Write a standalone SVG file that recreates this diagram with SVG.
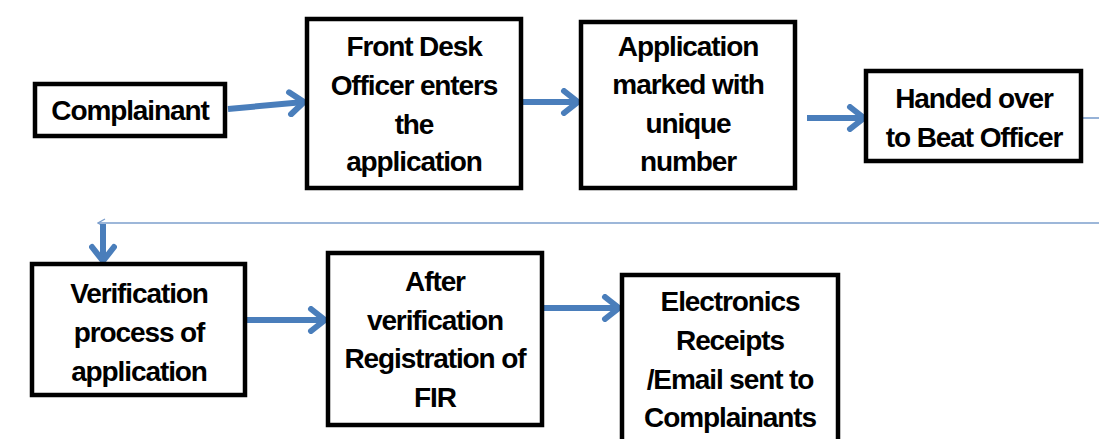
<svg xmlns="http://www.w3.org/2000/svg" width="1099" height="439" viewBox="0 0 1099 439">
<style>
.box{fill:#fff;stroke:#000;stroke-width:4.5}
.lbl{font-family:"Liberation Sans",Arial,sans-serif;font-weight:bold;font-size:28px;letter-spacing:-1.1px;fill:#000;text-anchor:middle}
.arr{fill:none;stroke:#4A7EBB;stroke-width:6;marker-end:url(#head)}
.thin{fill:none;stroke:#7C9FCD;stroke-width:1.6}
</style>
<defs>
<marker id="head" viewBox="0 0 22 28" refX="18" refY="14" markerWidth="22" markerHeight="28" markerUnits="userSpaceOnUse" orient="auto">
<path d="M4,3 L18,14 L4,25" fill="none" stroke="#4A7EBB" stroke-width="6" stroke-linecap="round" stroke-linejoin="round"/>
</marker>
<marker id="thinhead" viewBox="0 0 10 10" refX="9" refY="5" markerWidth="10" markerHeight="10" markerUnits="userSpaceOnUse" orient="auto">
<path d="M2,1 L9,5 L2,9" fill="none" stroke="#7C9FCD" stroke-width="1.4"/>
</marker>
</defs>
<rect width="1099" height="439" fill="#fff"/>
<g id="connectors">
<path class="arr" d="M228,109 L304,102"/>
<path class="arr" d="M523,102 L578,102"/>
<path class="arr" d="M807,118 L864,118"/>
<path class="thin" d="M1083,118 L1099,118"/>
<path class="thin" d="M1099,223 L98,223" marker-end="url(#thinhead)"/>
<path class="arr" d="M103,224 L103,261"/>
<path class="arr" d="M247,320 L325,320"/>
<path class="arr" d="M544,308 L619,308"/>
</g>
<g id="n1"><rect class="box" x="35" y="84" width="190" height="52"/><text class="lbl" x="130" y="120">Complainant</text></g>
<g id="n2"><rect class="box" x="307" y="19" width="214" height="169"/><text class="lbl" x="414" y="56">Front Desk</text><text class="lbl" x="414" y="95">Officer enters</text><text class="lbl" x="414" y="134">the</text><text class="lbl" x="414" y="171">application</text></g>
<g id="n3"><rect class="box" x="581" y="22" width="214" height="166"/><text class="lbl" x="688" y="56">Application</text><text class="lbl" x="688" y="94">marked with</text><text class="lbl" x="688" y="133">unique</text><text class="lbl" x="688" y="171">number</text></g>
<g id="n4"><rect class="box" x="866" y="71" width="215" height="90"/><text class="lbl" x="974" y="108">Handed over</text><text class="lbl" x="974" y="147">to Beat Officer</text></g>
<g id="n5"><rect class="box" x="32" y="264" width="213" height="131"/><text class="lbl" x="139" y="303">Verification</text><text class="lbl" x="139" y="342">process of</text><text class="lbl" x="139" y="381">application</text></g>
<g id="n6"><rect class="box" x="328" y="253" width="214" height="172"/><text class="lbl" x="435" y="291">After</text><text class="lbl" x="435" y="330">verification</text><text class="lbl" x="435" y="368">Registration of</text><text class="lbl" x="435" y="407">FIR</text></g>
<g id="n7"><rect class="box" x="622" y="275" width="216" height="170"/><text class="lbl" x="730" y="311">Electronics</text><text class="lbl" x="730" y="350">Receipts</text><text class="lbl" x="730" y="389">/Email sent to</text><text class="lbl" x="730" y="427">Complainants</text></g>
</svg>
